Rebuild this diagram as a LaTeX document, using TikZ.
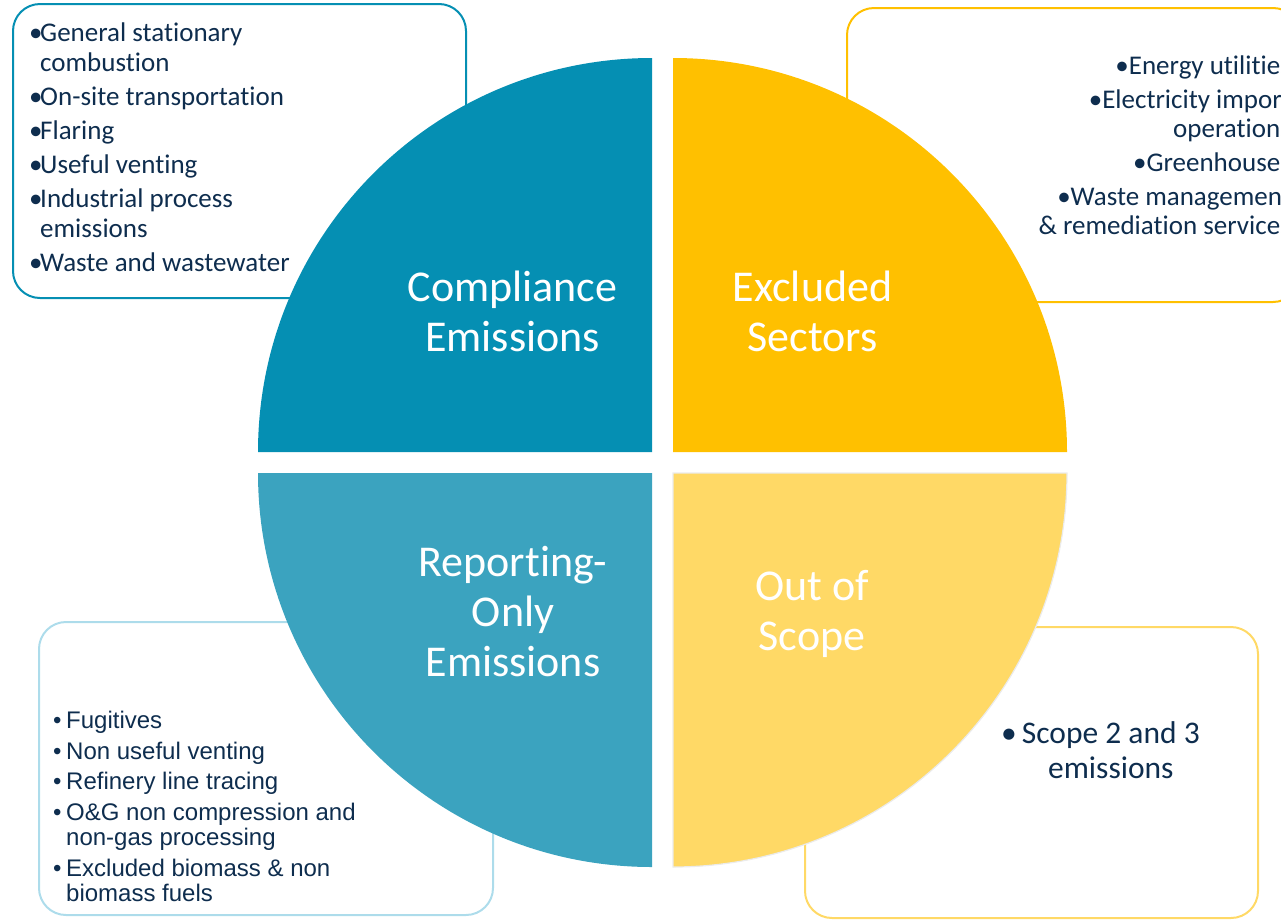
\documentclass[tikz,border=0pt]{standalone}
\usepackage{fontspec}
\setmainfont{Carlito}[Ligatures=NoCommon]
\newfontfamily\arialfont{Liberation Sans}

\definecolor{complianceblue}{HTML}{058FB3}
\definecolor{reportblue}{HTML}{3BA3BF}
\definecolor{reportline}{HTML}{ADDCEB}
\definecolor{excludedgold}{HTML}{FFC000}
\definecolor{scopegold}{HTML}{FFD966}
\definecolor{listnavy}{HTML}{0E2D4E}

\newcommand\listbullet[1][11pt]{\makebox[#1][l]{\textbullet}}

\tikzset{
  listbox/.style={rounded corners=27pt, line width=2pt},
  bigtitle/.style={anchor=north, inner sep=0pt, text=white, font=\fontsize{44}{50}\selectfont},
  listtext/.style={anchor=north west, inner sep=0pt, text=listnavy, font=\fontsize{27}{30}\selectfont}
}

\begin{document}
\begin{tikzpicture}
  [x=1pt,y=-1pt]
  \useasboundingbox (0,0) rectangle (1281,919);

  % boxes behind the circle
  \draw[listbox, draw=complianceblue] (13,4) rectangle (466,298);
  \draw[listbox, draw=excludedgold] (847,8) rectangle (1300,302);
  \draw[listbox, draw=reportline] (39,622) rectangle (493,915);
  \draw[listbox, draw=scopegold] (805,627) rectangle (1258,918);

  % the four quarters
  \fill[complianceblue] (652,452) -- (258,452) arc[start angle=180, end angle=270, radius=394] -- cycle;
  \fill[excludedgold] (673,452) -- (673,58) arc[start angle=270, end angle=360, radius=394] -- cycle;
  \fill[reportblue] (652,473) -- (258,473) arc[start angle=180, end angle=90, radius=394] -- cycle;
  \filldraw[fill=scopegold, draw=black!8, line width=1.2pt] (673,473) -- (1067,473) arc[start angle=0, end angle=90, radius=394] -- cycle;

  \node[bigtitle] (compliance) at (512.5,266.5) {\begin{tabular}{@{}c@{}}Compliance\\Emissions\end{tabular}};
  \node[bigtitle] (excluded) at (812.5,266.5) {\begin{tabular}{@{}c@{}}Excluded\\Sectors\end{tabular}};
  \node[bigtitle] (reporting) at (513,541) {\begin{tabular}{@{}c@{}}Reporting-\\Only\\Emissions\end{tabular}};
  \node[bigtitle] (outofscope) at (812,565.5) {\begin{tabular}{@{}c@{}}Out of\\Scope\end{tabular}};

  \node[listtext] (compliancelist) at (29,20.5) {\begin{tabular}{@{}l@{}l@{}}
    \listbullet & General stationary\\
    & combustion\\[4pt]
    \listbullet & On-site transportation\\[4pt]
    \listbullet & Flaring\\[4pt]
    \listbullet & Useful venting\\[4pt]
    \listbullet & Industrial process\\
    & emissions\\[4pt]
    \listbullet & Waste and wastewater
  \end{tabular}};

  \node[listtext, anchor=north east, font=\fontsize{27}{29}\selectfont] (excludedlist) at (1291,54) {\begin{tabular}{@{}r@{}}
    \textbullet Energy utilities\\[5pt]
    \textbullet Electricity import\\
    operations\\[5pt]
    \textbullet Greenhouses\\[5pt]
    \textbullet Waste management\\
    \& remediation services
  \end{tabular}};

  \node[listtext, font=\arialfont\fontsize{24}{25.5}\selectfont] (reportlist) at (53,710.5) {\begin{tabular}{@{}l@{}l@{}}
    \listbullet[13pt] & Fugitives\\[5pt]
    \listbullet[13pt] & Non useful venting\\[5pt]
    \listbullet[13pt] & Refinery line tracing\\[5pt]
    \listbullet[13pt] & O\&G non compression and\\
    & non-gas processing\\[5pt]
    \listbullet[13pt] & Excluded biomass \& non\\
    & biomass fuels
  \end{tabular}};

  \node[listtext, font=\fontsize{31.5}{35}\selectfont] (scopelist) at (1001,718.5) {\begin{tabular}{@{}l@{}c@{}}
    \listbullet[20.7pt] & Scope 2 and 3\\
    & emissions
  \end{tabular}};
\end{tikzpicture}
\end{document}
